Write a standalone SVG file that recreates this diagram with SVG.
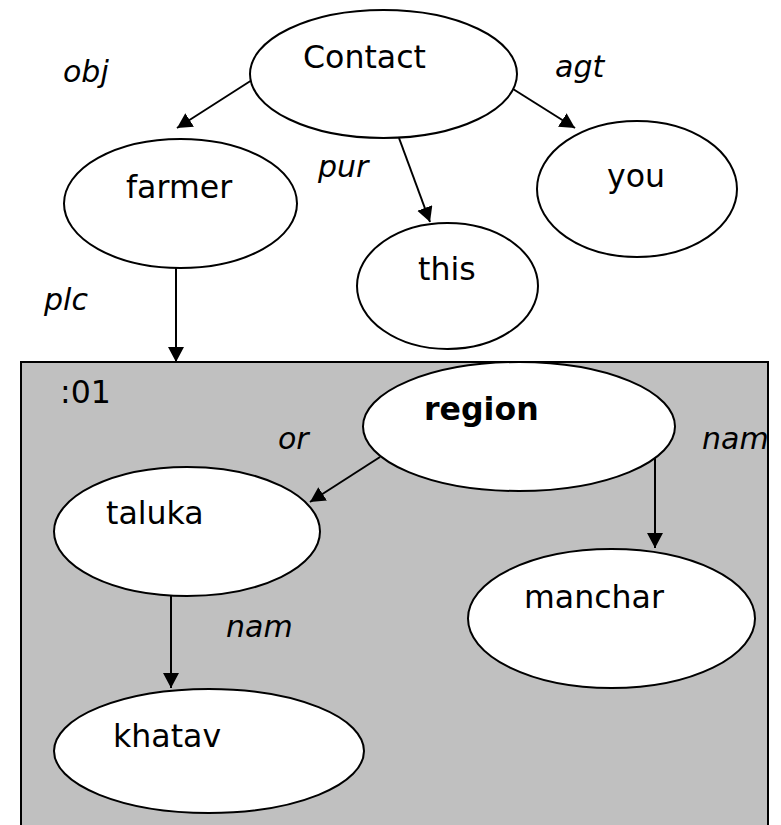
<svg xmlns="http://www.w3.org/2000/svg" width="781" height="825" viewBox="0 0 781 825">
<defs>
<style>
.n{fill:#fff;stroke:#000;stroke-width:2}
.t{font-family:"DejaVu Sans",Verdana,sans-serif;font-size:31.6px;fill:#000}
.b{font-weight:bold}
.l{font-family:"DejaVu Sans",Verdana,sans-serif;font-size:30px;font-style:italic;fill:#000}
.e{stroke:#000;stroke-width:2;fill:none;marker-end:url(#ah)}
</style>
<marker id="ah" markerUnits="userSpaceOnUse" markerWidth="17" markerHeight="17" refX="15" refY="8" orient="auto">
<path d="M0,0 L15,8 L0,16 z" fill="#000"/>
</marker>
</defs>
<rect width="781" height="825" fill="#fff"/>
<g id="frame01">
<rect x="21" y="362" width="747" height="470" fill="#c0c0c0" stroke="#000" stroke-width="2"/>
<text class="t" x="60" y="403">:01</text>
</g>
<g id="connectors">
<line class="e" x1="252" y1="80" x2="177" y2="128"/>
<line class="e" x1="513" y1="89" x2="575" y2="128"/>
<line class="e" x1="399" y1="138" x2="430" y2="222"/>
<line class="e" x1="176" y1="268" x2="176" y2="362"/>
<line class="e" x1="380" y1="457" x2="310" y2="502"/>
<line class="e" x1="655" y1="455" x2="655" y2="548"/>
<line class="e" x1="171" y1="596" x2="171" y2="688"/>
</g>
<g id="labels">
<text class="l" x="63" y="82">obj</text>
<text class="l" x="555" y="77">agt</text>
<text class="l" x="318" y="177">pur</text>
<text class="l" x="44" y="310">plc</text>
<text class="l" x="278" y="449">or</text>
<text class="l" x="702" y="449">nam</text>
<text class="l" x="226" y="637">nam</text>
</g>
<g id="contact">
<ellipse class="n" cx="383.5" cy="74" rx="133.5" ry="64"/>
<text class="t" x="303" y="68">Contact</text>
</g>
<g id="farmer">
<ellipse class="n" cx="180.5" cy="203.5" rx="116.5" ry="64.5"/>
<text class="t" x="126" y="198">farmer</text>
</g>
<g id="this">
<ellipse class="n" cx="447.5" cy="286" rx="90.5" ry="63"/>
<text class="t" x="418" y="280">this</text>
</g>
<g id="you">
<ellipse class="n" cx="637" cy="189" rx="100" ry="68"/>
<text class="t" x="607" y="187">you</text>
</g>
<g id="region">
<ellipse class="n" cx="519" cy="426.5" rx="156" ry="64.5"/>
<text class="t b" x="424" y="420">region</text>
</g>
<g id="taluka">
<ellipse class="n" cx="187" cy="531.5" rx="133" ry="64.5"/>
<text class="t" x="106" y="524">taluka</text>
</g>
<g id="manchar">
<ellipse class="n" cx="611.5" cy="618.5" rx="143.5" ry="69.5"/>
<text class="t" x="524" y="608">manchar</text>
</g>
<g id="khatav">
<ellipse class="n" cx="209" cy="751" rx="155" ry="62"/>
<text class="t" x="113" y="747">khatav</text>
</g>
</svg>
